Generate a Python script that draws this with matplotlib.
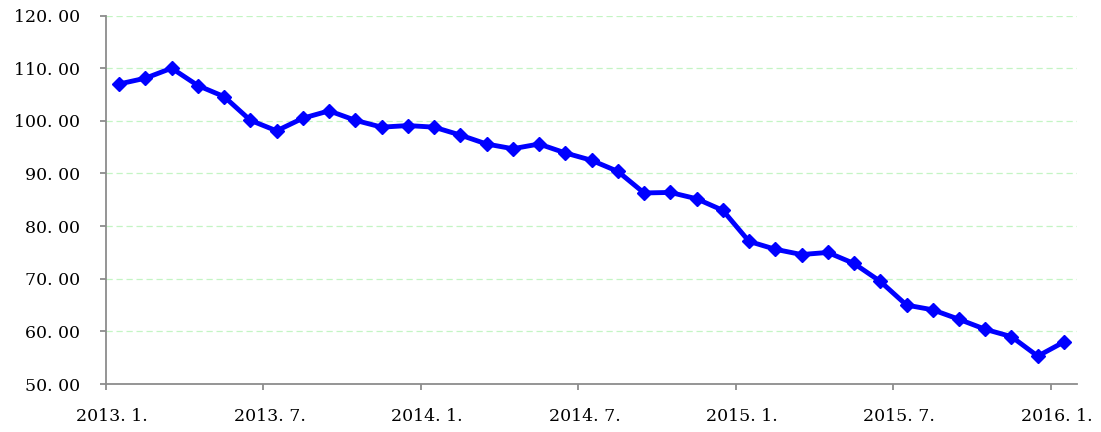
import matplotlib
matplotlib.use('Agg')
import matplotlib.pyplot as plt
import matplotlib.transforms as mtransforms
import numpy as np

# monthly index, 2013.1 - 2016.1
values = [107.0, 108.1, 110.0, 106.7, 104.6, 100.1, 98.1, 100.5, 101.9, 100.1,
          98.8, 99.1, 98.8, 97.3, 95.6, 94.7, 95.6, 93.9, 92.5, 90.4,
          86.3, 86.4, 85.2, 83.0, 77.1, 75.6, 74.6, 75.0, 72.9, 69.5,
          65.0, 64.1, 62.3, 60.4, 59.0, 55.3, 58.0]
xlabels = ['2013. 1.', '2013. 7.', '2014. 1.', '2014. 7.', '2015. 1.', '2015. 7.', '2016. 1.']
yticks = [50, 60, 70, 80, 90, 100, 110, 120]

plt.rcParams['font.family'] = ['DejaVu Serif']

fig = plt.figure(figsize=(11.01, 4.32), dpi=100)
ax = fig.add_axes([0.0963, 0.111, 0.882, 0.853])

x = np.arange(len(values))
ax.plot(x, values, color='#0000ff', lw=3.5, marker='D', ms=7, zorder=3)

ax.set_xlim(-0.5, len(values) - 0.5)
ax.set_ylim(50, 120)
ax.set_yticks(yticks)
ax.set_yticklabels(['%d. 00' % v for v in yticks])
ax.set_xticks(np.arange(len(xlabels)) * 6 - 0.5)
ax.set_xticklabels(xlabels)

for v in yticks[1:]:
    ax.axhline(v, color='#c4f5c4', lw=0.9, ls=(0, (5, 3)), zorder=1)

for s in ['top', 'right']:
    ax.spines[s].set_visible(False)
for s in ['left', 'bottom']:
    ax.spines[s].set_color('#8c8c8c')
    ax.spines[s].set_linewidth(1.3)

ax.tick_params(axis='both', direction='out', length=4.5, width=1.3,
               color='#8c8c8c', labelsize=12.5, labelcolor='black')
ax.tick_params(axis='y', pad=14)
ax.tick_params(axis='x', pad=13)

shift = mtransforms.ScaledTranslation(6 / 100, 0, fig.dpi_scale_trans)
for lab in ax.get_xticklabels():
    lab.set_transform(lab.get_transform() + shift)

fig.savefig('out.png', dpi=100)
